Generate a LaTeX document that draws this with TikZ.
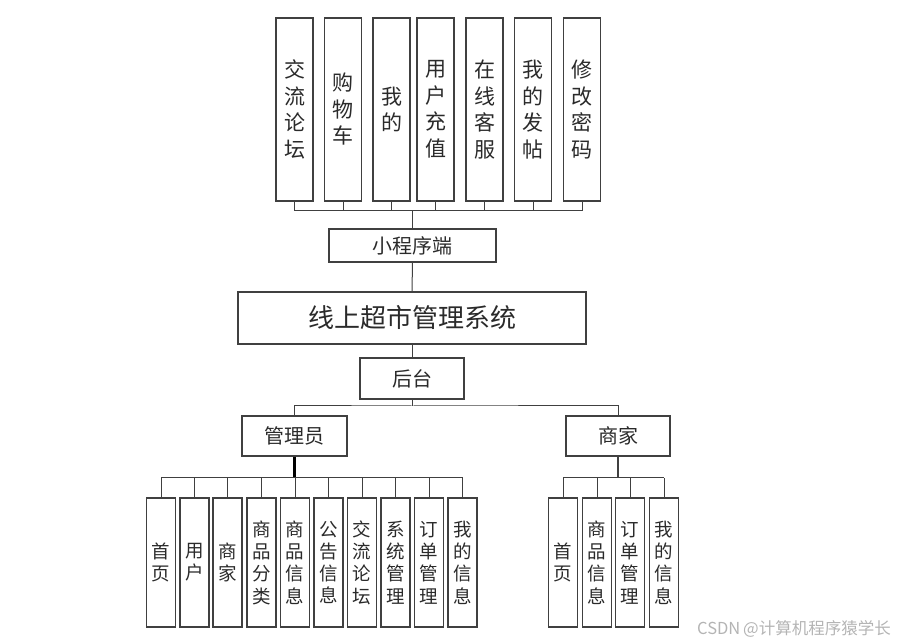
\documentclass[tikz,border=0pt]{standalone}
\usepackage{fontspec}
\newfontfamily\cjk{Noto Sans CJK SC}
\definecolor{ln}{HTML}{404040}
\definecolor{tx}{HTML}{2A2A2A}
\definecolor{wm}{HTML}{B4B4B4}
\tikzset{
  box/.style={draw=ln, line width=1.2pt, inner sep=0pt, text=tx, align=center, font=\cjk\fontsize{20}{24}\selectfont},
  topbox/.style={box, minimum width=37pt, minimum height=183pt, font=\cjk\fontsize{21}{26.5}\selectfont},
  lowbox/.style={box, minimum width=29pt, minimum height=129pt, font=\cjk\fontsize{18.5}{22.3}\selectfont},
  conn/.style={draw=ln, line width=1pt},
  thickconn/.style={draw=black, line width=2.2pt}
}
\begin{document}
\begin{tikzpicture}[x=1pt,y=-1pt]
\useasboundingbox (0,0) rectangle (898,644);
% top boxes
\node[topbox] (t1) at (294.5,109.5) {交\\流\\论\\坛};
\node[topbox] (t2) at (343,109.5) {购\\物\\车};
\node[topbox] (t3) at (391.5,109.5) {我\\的};
\node[topbox] (t4) at (435.5,109.5) {用\\户\\充\\值};
\node[topbox] (t5) at (484.5,109.5) {在\\线\\客\\服};
\node[topbox] (t6) at (533,109.5) {我\\的\\发\\帖};
\node[topbox] (t7) at (582,109.5) {修\\改\\密\\码};
% middle
\node[box, minimum width=167pt, minimum height=33pt] (xcx) at (412.5,245.5) {小程序端};
\node[box, minimum width=348pt, minimum height=52pt, font=\cjk\fontsize{26}{30}\selectfont] (sys) at (412,318) {线上超市管理系统};
\node[box, minimum width=104pt, minimum height=41pt] (ht) at (412,378.5) {后台};
\node[box, minimum width=105pt, minimum height=40pt] (gly) at (294.5,436) {管理员};
\node[box, minimum width=104pt, minimum height=40pt] (sj) at (618,436) {商家};
% admin boxes
\node[lowbox] (a1) at (161,562.5) {首\\页};
\node[lowbox] (a2) at (194.5,562.5) {用\\户};
\node[lowbox] (a3) at (227.5,562.5) {商\\家};
\node[lowbox] (a4) at (261.5,562.5) {商\\品\\分\\类};
\node[lowbox] (a5) at (295,562.5) {商\\品\\信\\息};
\node[lowbox] (a6) at (328.5,562.5) {公\\告\\信\\息};
\node[lowbox] (a7) at (362,562.5) {交\\流\\论\\坛};
\node[lowbox] (a8) at (395.5,562.5) {系\\统\\管\\理};
\node[lowbox] (a9) at (429,562.5) {订\\单\\管\\理};
\node[lowbox] (a10) at (462.5,562.5) {我\\的\\信\\息};
% merchant boxes
\node[lowbox] (m1) at (563,562.5) {首\\页};
\node[lowbox] (m2) at (597,562.5) {商\\品\\信\\息};
\node[lowbox] (m3) at (630,562.5) {订\\单\\管\\理};
\node[lowbox] (m4) at (664,562.5) {我\\的\\信\\息};
% bus coordinates
\coordinate (busT) at (412.5,211);
\coordinate (busH) at (412,406);
\coordinate (busA) at (294.5,478);
\coordinate (busM) at (618,478);
% top connectors
\foreach \n in {t1,t2,t3,t4,t5,t6,t7} {\draw[conn] (\n.south) -- (\n.south |- busT);}
\draw[conn] (t1.south |- busT) -- (t7.south |- busT);
\draw[conn] (busT) -- (xcx.north);
\draw[conn] (xcx.south) -- (sys.north);
\draw[conn] (sys.south) -- (ht.north);
% backend
\draw[conn] (ht.south) -- (busH);
\draw[conn] (gly.north) |- (busH) -| (sj.north);
% admin
\draw[thickconn] (gly.south) -- (busA);
\draw[conn] (a1.north |- busA) -- (a10.north |- busA);
\foreach \n in {a1,a2,a3,a4,a5,a6,a7,a8,a9,a10} {\draw[conn] (\n.north) -- (\n.north |- busA);}
% merchant
\draw[conn, line width=1.6pt] (sj.south) -- (busM);
\draw[conn] (m1.north |- busM) -- (m4.north |- busM);
\foreach \n in {m1,m2,m3,m4} {\draw[conn] (\n.north) -- (\n.north |- busM);}
% watermark
\node[text=wm, inner sep=0pt, font=\cjk\fontsize{16.5}{18}\selectfont] (wmk) at (794,628.5) {CSDN\,@计算机程序猿学长};
\end{tikzpicture}
\end{document}
